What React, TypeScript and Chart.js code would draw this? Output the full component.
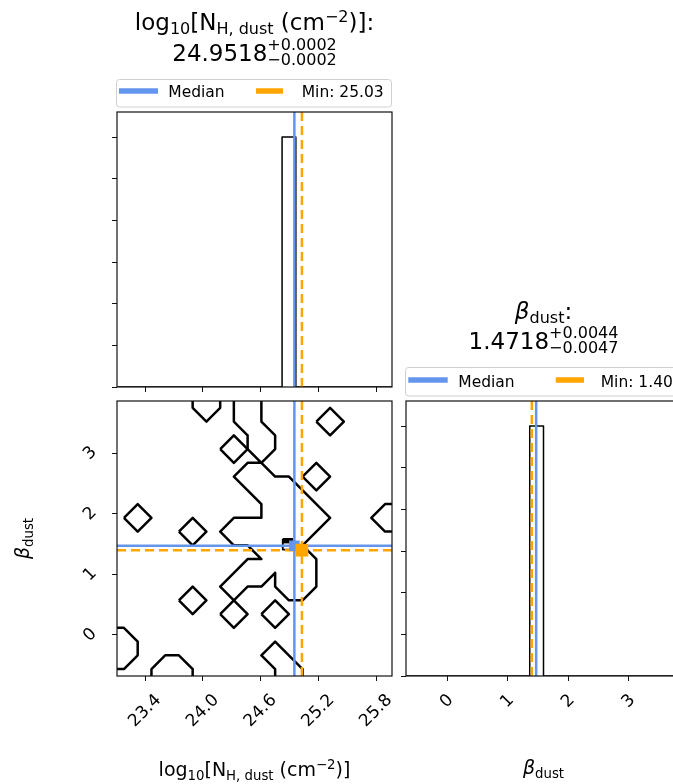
import React, { useEffect, useRef } from 'react';
import { Chart, registerables } from 'chart.js';

Chart.register(...registerables);

const FAMILY = "'DejaVu Sans', sans-serif";
const BLUE = '#6495ED';
const ORANGE = '#FFA500';

// ---- axis ranges ----
const nhRange = [23.109, 25.966];
const betaRange = [-0.677, 3.863];
const countRange = [0, 33];

// ---- summary values ----
const nhMedian = 24.9518;
const nhBest = 25.03;
const nhErr = ['+0.0002', '−0.0002'];
const betaMedian = 1.4718;
const betaBest = 1.4;
const betaErr = ['+0.0044', '−0.0047'];

// ---- ticks ----
const nhTickValues = [23.4, 24.0, 24.6, 25.2, 25.8];
const nhTickLabels = ['23.4', '24.0', '24.6', '25.2', '25.8'];
const betaTickValues = [0, 1, 2, 3];
const betaTickLabels = ['0', '1', '2', '3'];
const countTickValues = [0, 5, 10, 15, 20, 25, 30];

// ---- 1D histograms ----
const nhBinEdges = [23.109, 24.824, 24.967, 25.966];
const nhCounts = [0, 30, 0];
const betaBinEdges = [-0.677, 1.366, 1.593, 3.863];
const betaCounts = [0, 30, 0];

// ---- 2D contours (x = log10 NH, y = beta) ----
const contourCentral = [
  [24.323, 3.863], [24.323, 3.523], [24.466, 3.296], [24.466, 3.069], [24.609, 2.842],
  [24.466, 2.842], [24.323, 2.615], [24.609, 2.161], [24.609, 1.934], [24.323, 1.934],
  [24.181, 1.707], [24.323, 1.48], [24.466, 1.48], [24.609, 1.253], [24.466, 1.253],
  [24.181, 0.799], [24.323, 0.572], [24.466, 0.799], [24.609, 0.799], [24.752, 1.026],
  [24.752, 0.799], [24.895, 0.572], [25.037, 0.572], [25.18, 0.799], [25.18, 1.253],
  [25.037, 1.48], [25.323, 1.934], [24.895, 2.615], [24.752, 2.615], [24.609, 2.842],
  [24.752, 3.069], [24.752, 3.296], [24.609, 3.523], [24.609, 3.863],
];
const contourTopU = [[23.895, 3.863], [23.895, 3.75], [24.038, 3.523], [24.181, 3.75], [24.181, 3.863]];
const contourDiamondA = [[24.181, 3.069], [24.323, 3.296], [24.466, 3.069], [24.323, 2.842], [24.181, 3.069]];
const contourDiamondB = [[25.18, 3.523], [25.323, 3.75], [25.466, 3.523], [25.323, 3.296], [25.18, 3.523]];
const contourDiamondC = [[25.037, 2.615], [25.18, 2.842], [25.323, 2.615], [25.18, 2.388], [25.037, 2.615]];
const contourRightEdge = [[25.966, 2.161], [25.894, 2.161], [25.751, 1.934], [25.894, 1.707], [25.966, 1.707]];
const contourDiamondD = [[23.181, 1.934], [23.324, 2.161], [23.467, 1.934], [23.324, 1.707], [23.181, 1.934]];
const contourDiamondE = [[23.752, 1.707], [23.895, 1.934], [24.038, 1.707], [23.895, 1.48], [23.752, 1.707]];
const contourDiamondF = [[23.752, 0.572], [23.895, 0.799], [24.038, 0.572], [23.895, 0.345], [23.752, 0.572]];
const contourDiamondG = [[24.181, 0.345], [24.323, 0.572], [24.466, 0.345], [24.323, 0.118], [24.181, 0.345]];
const contourDiamondH = [[24.609, 0.345], [24.752, 0.572], [24.895, 0.345], [24.752, 0.118], [24.609, 0.345]];
const contourBottomRight = [[24.752, -0.677], [24.752, -0.563], [24.609, -0.336], [24.752, -0.109], [25.037, -0.563], [25.037, -0.677]];
const contourBottomLeft = [[23.109, 0.118], [23.181, 0.118], [23.324, -0.109], [23.324, -0.336], [23.181, -0.563], [23.109, -0.563]];
const contourBottomArch = [[23.467, -0.677], [23.467, -0.563], [23.609, -0.336], [23.752, -0.336], [23.895, -0.563], [23.895, -0.677]];
const coreOutline = [[24.831, 1.585], [24.93, 1.585], [24.93, 1.41], [24.831, 1.41], [24.831, 1.585]];
const coreFill = [[24.831, 1.585], [24.93, 1.585], [24.93, 1.52], [24.831, 1.52], [24.831, 1.585]];

const contourLines = [
  contourCentral, contourTopU, contourDiamondA, contourDiamondB, contourDiamondC, contourRightEdge,
  contourDiamondD, contourDiamondE, contourDiamondF, contourDiamondG, contourDiamondH,
  contourBottomRight, contourBottomLeft, contourBottomArch,
];

const legendNH = ['Median', `Min: ${nhBest.toFixed(2)}`];
const legendBeta = ['Median', `Min: ${betaBest.toFixed(2)}`];

// ---------- helpers ----------
type Run = { t?: string; s: number; dy?: number; it?: boolean; sup?: string; sub?: string; supDy?: number; subDy?: number };

const fontStr = (s: number, it?: boolean) => `${it ? 'italic ' : ''}${s}px ${FAMILY}`;

function runWidth(ctx: CanvasRenderingContext2D, r: Run) {
  ctx.font = fontStr(r.s, r.it);
  if (r.sup !== undefined) return Math.max(ctx.measureText(r.sup).width, ctx.measureText(r.sub || '').width);
  return ctx.measureText(r.t || '').width;
}

function drawRich(ctx: CanvasRenderingContext2D, runs: Run[], cx: number, by: number) {
  const widths = runs.map((r) => runWidth(ctx, r));
  let x = cx - widths.reduce((a, b) => a + b, 0) / 2;
  ctx.save();
  ctx.fillStyle = '#000';
  ctx.textAlign = 'left';
  ctx.textBaseline = 'alphabetic';
  runs.forEach((r, i) => {
    ctx.font = fontStr(r.s, r.it);
    if (r.sup !== undefined) {
      ctx.fillText(r.sup, x, by + (r.supDy || 0));
      ctx.fillText(r.sub || '', x, by + (r.subDy || 0));
    } else {
      ctx.fillText(r.t || '', x, by + (r.dy || 0));
    }
    x += widths[i];
  });
  ctx.restore();
}

function drawLegend(
  ctx: CanvasRenderingContext2D,
  box: number[],
  labels: string[],
  samples: number[][],
  textX: number[],
  lineY: number,
  textY: number,
) {
  ctx.save();
  ctx.beginPath();
  (ctx as any).roundRect(box[0], box[1], box[2], box[3], 3);
  ctx.fillStyle = 'rgba(255,255,255,0.8)';
  ctx.fill();
  ctx.strokeStyle = '#d0d0d0';
  ctx.lineWidth = 1;
  ctx.stroke();
  const colors = [BLUE, ORANGE];
  samples.forEach((s, i) => {
    ctx.beginPath();
    ctx.strokeStyle = colors[i];
    ctx.lineWidth = 5.5;
    ctx.lineCap = 'butt';
    ctx.moveTo(s[0], lineY);
    ctx.lineTo(s[1], lineY);
    ctx.stroke();
  });
  ctx.fillStyle = '#000';
  ctx.font = fontStr(15.5);
  ctx.textAlign = 'left';
  ctx.textBaseline = 'alphabetic';
  labels.forEach((l, i) => ctx.fillText(l, textX[i], textY));
  ctx.restore();
}

const toXY = (pts: number[][]) => pts.map((p) => ({ x: p[0], y: p[1] }));

function stepPoints(edges: number[], counts: number[]) {
  const pts: { x: number; y: number }[] = [];
  counts.forEach((c, k) => {
    pts.push({ x: edges[k], y: c });
    pts.push({ x: edges[k + 1], y: c });
  });
  return pts;
}

function lineSet(data: any[], color: string, width: number, order: number, dash: number[] = []) {
  return {
    data,
    showLine: true,
    borderColor: color,
    backgroundColor: color,
    borderWidth: width,
    borderDash: dash,
    borderJoinStyle: 'round',
    pointRadius: 0,
    pointHoverRadius: 0,
    fill: false,
    tension: 0,
    order,
  };
}

function axis(o: {
  range: number[];
  values: number[];
  labels?: string[];
  size: number;
  horizontal: boolean;
  padding?: number;
  labelOffset?: number;
}) {
  return {
    type: 'linear',
    min: o.range[0],
    max: o.range[1],
    afterBuildTicks: (scale: any) => {
      scale.ticks = o.values.map((v) => ({ value: v }));
    },
    afterFit: (scale: any) => {
      if (o.horizontal) scale.height = o.size;
      else scale.width = o.size;
      scale.paddingTop = 0;
      scale.paddingBottom = 0;
      scale.paddingLeft = 0;
      scale.paddingRight = 0;
    },
    ticks: {
      display: !!o.labels,
      autoSkip: false,
      minRotation: 45,
      maxRotation: 45,
      padding: o.padding ?? 3,
      labelOffset: o.labelOffset ?? 0,
      font: { family: FAMILY, size: 17 },
      color: '#000',
      callback: (_v: any, i: number) => (o.labels ? o.labels[i] : ''),
    },
    grid: {
      display: true,
      drawOnChartArea: false,
      drawTicks: true,
      tickLength: 5,
      tickWidth: 1,
      tickColor: '#111',
      color: '#111',
      lineWidth: 1,
    },
    border: { display: false },
  };
}

const framePlugin = {
  id: 'frame',
  afterDatasetsDraw(chart: any) {
    const { ctx, chartArea: a } = chart;
    ctx.save();
    ctx.strokeStyle = '#111';
    ctx.lineWidth = 1.2;
    ctx.strokeRect(a.left, a.top, a.right - a.left, a.bottom - a.top);
    ctx.restore();
  },
};

const baseOptions = (padding: any, scales: any, draw: (ctx: CanvasRenderingContext2D) => void) => ({
  type: 'scatter',
  options: {
    animation: false,
    responsive: false,
    maintainAspectRatio: false,
    events: [],
    layout: { padding, autoPadding: false },
    plugins: { legend: { display: false }, tooltip: { enabled: false } },
    scales,
  },
  plugins: [framePlugin, { id: 'texts', afterDraw: (chart: any) => draw(chart.ctx) }],
});

// ---------- panel configs ----------
function topLeftConfig() {
  const cfg: any = baseOptions(
    { left: 107, top: 112, right: 8, bottom: 2 },
    {
      x: axis({ range: nhRange, values: nhTickValues, size: 6, horizontal: true }),
      y: axis({ range: countRange, values: countTickValues, size: 10, horizontal: false }),
    },
    (ctx) => {
      drawRich(ctx, [
        { t: 'log', s: 23 }, { t: '10', s: 16, dy: 4 }, { t: '[N', s: 23 }, { t: 'H, dust', s: 16, dy: 4 },
        { t: ' (cm', s: 23 }, { t: '−2', s: 16, dy: -8 }, { t: ')]:', s: 23 },
      ], 254.5, 30);
      drawRich(ctx, [
        { t: nhMedian.toFixed(4), s: 23 },
        { sup: nhErr[0], sub: nhErr[1], s: 16, supDy: -11, subDy: 4 },
      ], 254.5, 61);
      drawLegend(ctx, [116.5, 79.5, 275, 27.5], legendNH, [[119, 158], [256, 283]], [168.3, 301.7], 91, 96.5);
    },
  );
  cfg.data = {
    datasets: [
      lineSet([{ x: nhBest, y: countRange[0] }, { x: nhBest, y: countRange[1] }], ORANGE, 2.5, 0, [9, 5]),
      lineSet([{ x: nhMedian, y: countRange[0] }, { x: nhMedian, y: countRange[1] }], BLUE, 2.5, 1),
      lineSet(stepPoints(nhBinEdges, nhCounts), '#000', 1.5, 2),
    ],
  };
  return cfg;
}

function bottomLeftConfig() {
  const cfg: any = baseOptions(
    { left: 57, top: 6, right: 8, bottom: 48 },
    {
      x: axis({ range: nhRange, values: nhTickValues, labels: nhTickLabels, size: 60, horizontal: true, padding: 9.3, labelOffset: 13.4 }),
      y: axis({ range: betaRange, values: betaTickValues, labels: betaTickLabels, size: 60, horizontal: false, padding: 18, labelOffset: -3.8 }),
    },
    (ctx) => {
      drawRich(ctx, [
        { t: 'log', s: 19 }, { t: '10', s: 13.3, dy: 3.5 }, { t: '[N', s: 19 }, { t: 'H, dust', s: 13.3, dy: 3.5 },
        { t: ' (cm', s: 19 }, { t: '−2', s: 13.3, dy: -7 }, { t: ')]', s: 19 },
      ], 254.5, 381);
      ctx.save();
      ctx.translate(29, 143.5);
      ctx.rotate(-Math.PI / 2);
      drawRich(ctx, [{ t: 'β', s: 19, it: true }, { t: 'dust', s: 13.3, dy: 3.5 }], 0, 0);
      ctx.restore();
    },
  );
  const datasets: any[] = [
    {
      data: [{ x: nhBest, y: betaBest }], showLine: false, pointStyle: 'rect', pointRadius: 9,
      pointBackgroundColor: ORANGE, backgroundColor: ORANGE, pointBorderWidth: 0, borderWidth: 0, order: 0,
    },
    {
      data: [{ x: nhMedian, y: betaMedian }], showLine: false, pointStyle: 'rect', pointRadius: 7.5,
      pointBackgroundColor: BLUE, backgroundColor: BLUE, pointBorderWidth: 0, borderWidth: 0, order: 1,
    },
    lineSet([{ x: nhBest, y: betaRange[0] }, { x: nhBest, y: betaRange[1] }], ORANGE, 2.5, 2, [9, 5]),
    lineSet([{ x: nhRange[0], y: betaBest }, { x: nhRange[1], y: betaBest }], ORANGE, 2.5, 2, [9, 5]),
    lineSet([{ x: nhMedian, y: betaRange[0] }, { x: nhMedian, y: betaRange[1] }], BLUE, 2.5, 3),
    lineSet([{ x: nhRange[0], y: betaMedian }, { x: nhRange[1], y: betaMedian }], BLUE, 2.5, 3),
    { ...lineSet(toXY(coreFill), '#000', 1, 4), fill: 'shape' },
    lineSet(toXY(coreOutline), '#000', 1.8, 4),
  ];
  contourLines.forEach((c) => datasets.push(lineSet(toXY(c), '#000', 2.5, 5)));
  cfg.data = { datasets };
  return cfg;
}

function bottomRightConfig() {
  const cfg: any = baseOptions(
    { left: 0, top: 111, right: 9, bottom: 48 },
    {
      x: axis({ range: betaRange, values: betaTickValues, labels: betaTickLabels, size: 60, horizontal: true, padding: 9.3, labelOffset: 3.8 }),
      y: axis({ range: countRange, values: countTickValues, size: 6, horizontal: false }),
    },
    (ctx) => {
      drawRich(ctx, [{ t: 'β', s: 23, it: true }, { t: 'dust', s: 16, dy: 4 }, { t: ':', s: 23 }], 143.5, 29.3);
      drawRich(ctx, [
        { t: betaMedian.toFixed(4), s: 23 },
        { sup: betaErr[0], sub: betaErr[1], s: 16, supDy: -11, subDy: 4 },
      ], 143.5, 59.3);
      drawLegend(ctx, [5.5, 77.5, 275.5, 28.5], legendBeta, [[8.3, 47.7], [155.7, 184]], [58.3, 200.7], 90, 96.5);
      drawRich(ctx, [{ t: 'β', s: 19, it: true }, { t: 'dust', s: 13.3, dy: 3.5 }], 143.5, 484);
    },
  );
  cfg.data = {
    datasets: [
      lineSet([{ x: betaBest, y: countRange[0] }, { x: betaBest, y: countRange[1] }], ORANGE, 2.5, 0, [9, 5]),
      lineSet([{ x: betaMedian, y: countRange[0] }, { x: betaMedian, y: countRange[1] }], BLUE, 2.5, 1),
      lineSet(stepPoints(betaBinEdges, betaCounts), '#000', 1.5, 2),
    ],
  };
  return cfg;
}

function Panel(props: { left: number; top: number; width: number; height: number; make: () => any }) {
  const ref = useRef<HTMLCanvasElement>(null);
  useEffect(() => {
    const chart = new Chart(ref.current as HTMLCanvasElement, props.make());
    return () => chart.destroy();
  }, []);
  return (
    <canvas
      ref={ref}
      width={props.width}
      height={props.height}
      style={{ position: 'absolute', left: props.left, top: props.top, width: props.width, height: props.height }}
    />
  );
}

export default function App() {
  return (
    <div style={{ position: 'fixed', left: 0, top: 0, width: 673, height: 784, overflow: 'hidden', background: '#fff' }}>
      <Panel left={0} top={0} width={400} height={395} make={topLeftConfig} />
      <Panel left={0} top={395} width={400} height={389} make={bottomLeftConfig} />
      <Panel left={400} top={290} width={290} height={494} make={bottomRightConfig} />
    </div>
  );
}
